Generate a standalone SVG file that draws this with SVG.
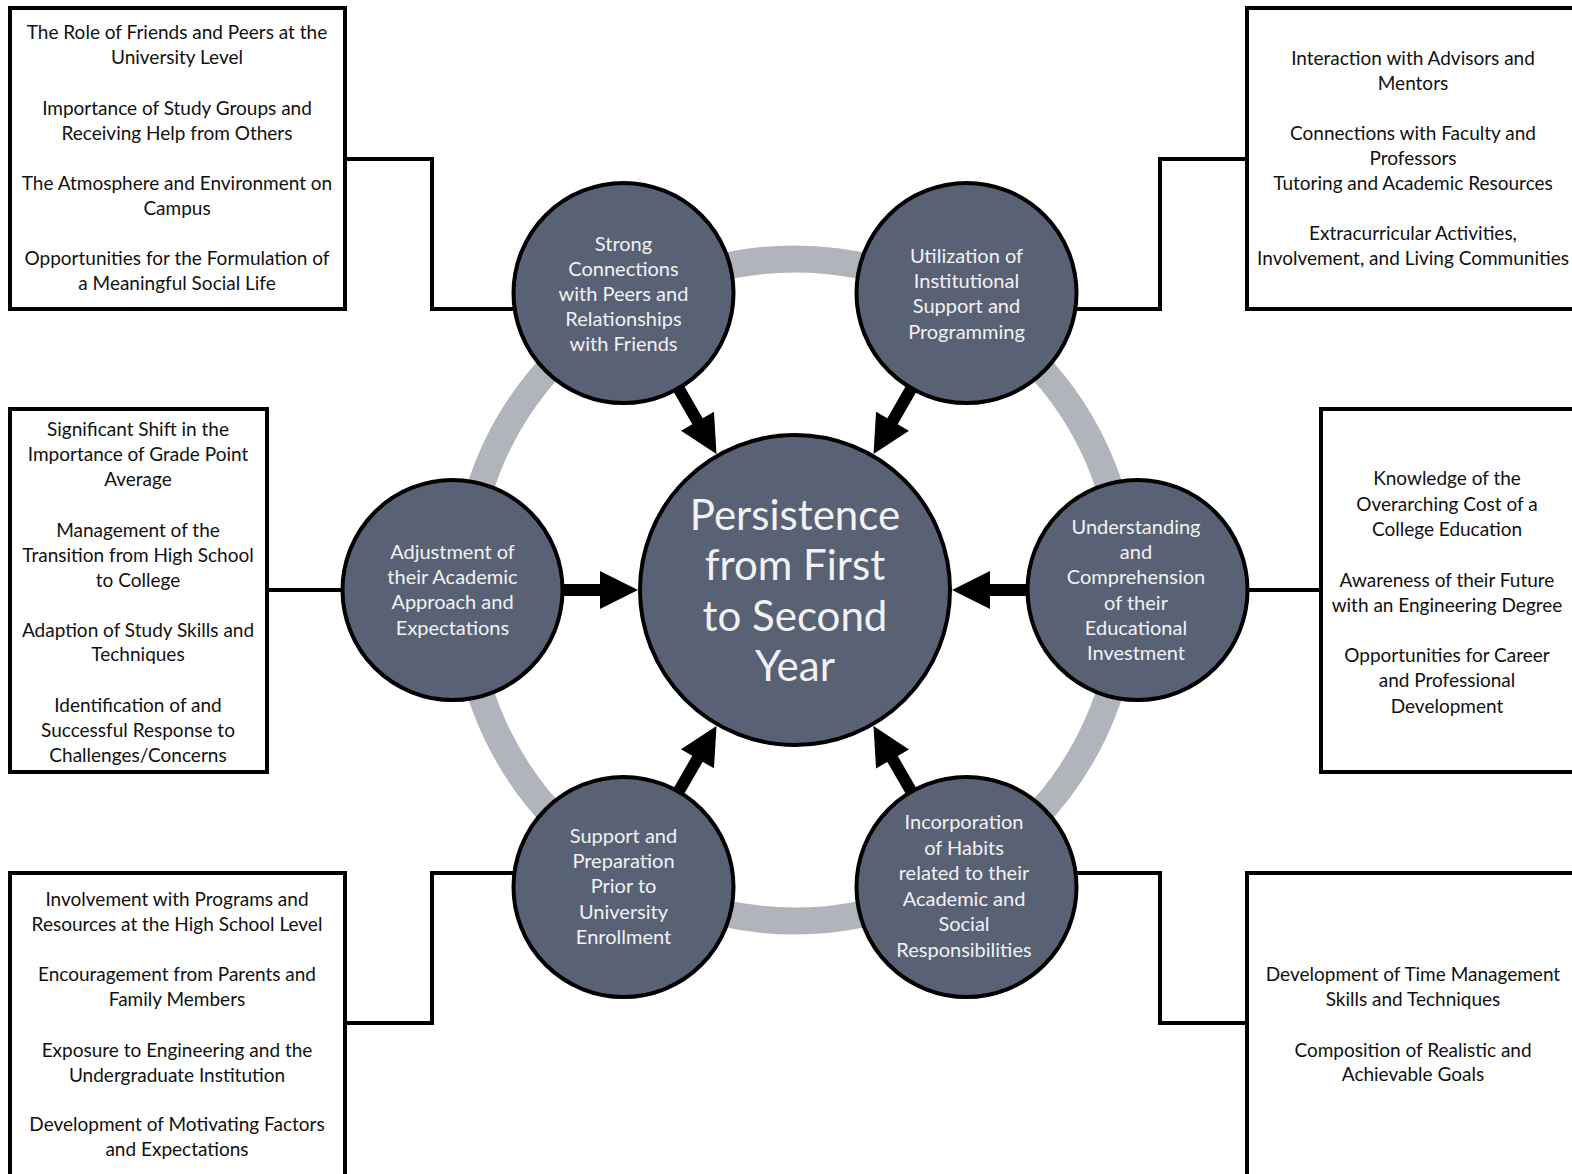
<svg xmlns="http://www.w3.org/2000/svg" width="1572" height="1174" viewBox="0 0 1572 1174">
<style>
.box{fill:#fff;stroke:#000;stroke-width:4}
.conn{fill:none;stroke:#000;stroke-width:4}
.sat{fill:#596175;stroke:#000;stroke-width:4}
.bt{font-family:Lato,"Liberation Sans",sans-serif;font-size:19px;fill:#111;text-anchor:middle}
.ct{font-family:Lato,"Liberation Sans",sans-serif;font-size:20px;fill:#f2f2f2;text-anchor:middle}
.mt{font-family:Lato,"Liberation Sans",sans-serif;font-size:42px;fill:#f2f2f2;text-anchor:middle}
.arr{fill:#000}
</style>
<defs>
<polygon id="arrow" points="562,584 600,584 600,571 638,590 600,609 600,596 562,596"/>
</defs>
<rect width="1572" height="1174" fill="#fff"/>
<circle cx="795" cy="590" r="331" fill="none" stroke="#b1b4bb" stroke-width="27"/>
<g id="connectors">
<polyline class="conn" points="345,159 432,159 432,309 515,309"/>
<polyline class="conn" points="1247,159 1160,159 1160,309 1075,309"/>
<line class="conn" x1="267" y1="590" x2="345" y2="590"/>
<line class="conn" x1="1245" y1="590" x2="1321" y2="590"/>
<polyline class="conn" points="345,1023 432,1023 432,873 515,873"/>
<polyline class="conn" points="1247,1023 1160,1023 1160,873 1075,873"/>
<g class="arr">
<use href="#arrow"/>
<use href="#arrow" transform="rotate(60 795 590)"/>
<use href="#arrow" transform="rotate(120 795 590)"/>
<use href="#arrow" transform="rotate(180 795 590)"/>
<use href="#arrow" transform="rotate(240 795 590)"/>
<use href="#arrow" transform="rotate(300 795 590)"/>
</g>
</g>
<g id="center">
<circle class="sat" cx="795" cy="590" r="155"/>
<text class="mt" x="795" y="530">Persistence</text>
<text class="mt" x="795" y="580">from First</text>
<text class="mt" x="795" y="631">to Second</text>
<text class="mt" x="795" y="681">Year</text>
</g>
<g id="n-peers">
<circle class="sat" cx="623.5" cy="293" r="110"/>
<text class="ct" x="623.5" y="251">Strong</text>
<text class="ct" x="623.5" y="276">Connections</text>
<text class="ct" x="623.5" y="301">with Peers and</text>
<text class="ct" x="623.5" y="326">Relationships</text>
<text class="ct" x="623.5" y="351">with Friends</text>
</g>
<g id="n-support">
<circle class="sat" cx="966.5" cy="293" r="110"/>
<text class="ct" x="966.5" y="263">Utilization of</text>
<text class="ct" x="966.5" y="288">Institutional</text>
<text class="ct" x="966.5" y="313">Support and</text>
<text class="ct" x="966.5" y="339">Programming</text>
</g>
<g id="n-academic">
<circle class="sat" cx="452.5" cy="590" r="110"/>
<text class="ct" x="452.5" y="559">Adjustment of</text>
<text class="ct" x="452.5" y="584">their Academic</text>
<text class="ct" x="452.5" y="609">Approach and</text>
<text class="ct" x="452.5" y="635">Expectations</text>
</g>
<g id="n-investment">
<circle class="sat" cx="1137.5" cy="590" r="110"/>
<text class="ct" x="1136" y="534">Understanding</text>
<text class="ct" x="1136" y="559">and</text>
<text class="ct" x="1136" y="584">Comprehension</text>
<text class="ct" x="1136" y="610">of their</text>
<text class="ct" x="1136" y="635">Educational</text>
<text class="ct" x="1136" y="660">Investment</text>
</g>
<g id="n-preparation">
<circle class="sat" cx="623.5" cy="887" r="110"/>
<text class="ct" x="623.5" y="843">Support and</text>
<text class="ct" x="623.5" y="868">Preparation</text>
<text class="ct" x="623.5" y="893">Prior to</text>
<text class="ct" x="623.5" y="919">University</text>
<text class="ct" x="623.5" y="944">Enrollment</text>
</g>
<g id="n-habits">
<circle class="sat" cx="966.5" cy="887" r="110"/>
<text class="ct" x="964" y="829">Incorporation</text>
<text class="ct" x="964" y="855">of Habits</text>
<text class="ct" x="964" y="880">related to their</text>
<text class="ct" x="964" y="906">Academic and</text>
<text class="ct" x="964" y="931">Social</text>
<text class="ct" x="964" y="957">Responsibilities</text>
</g>
<g id="b-peers">
<rect class="box" x="10" y="8" width="335" height="301"/>
<text class="bt" x="177" y="39">The Role of Friends and Peers at the</text>
<text class="bt" x="177" y="64">University Level</text>
<text class="bt" x="177" y="115">Importance of Study Groups and</text>
<text class="bt" x="177" y="140">Receiving Help from Others</text>
<text class="bt" x="177" y="190">The Atmosphere and Environment on</text>
<text class="bt" x="177" y="215">Campus</text>
<text class="bt" x="177" y="265">Opportunities for the Formulation of</text>
<text class="bt" x="177" y="290">a Meaningful Social Life</text>
</g>
<g id="b-support">
<rect class="box" x="1247" y="8" width="400" height="301"/>
<text class="bt" x="1413" y="65">Interaction with Advisors and</text>
<text class="bt" x="1413" y="90">Mentors</text>
<text class="bt" x="1413" y="140">Connections with Faculty and</text>
<text class="bt" x="1413" y="165">Professors</text>
<text class="bt" x="1413" y="190">Tutoring and Academic Resources</text>
<text class="bt" x="1413" y="240">Extracurricular Activities,</text>
<text class="bt" x="1413" y="265">Involvement, and Living Communities</text>
</g>
<g id="b-academic">
<rect class="box" x="10" y="409" width="257" height="363"/>
<text class="bt" x="138" y="436">Significant Shift in the</text>
<text class="bt" x="138" y="461">Importance of Grade Point</text>
<text class="bt" x="138" y="486">Average</text>
<text class="bt" x="138" y="537">Management of the</text>
<text class="bt" x="138" y="562">Transition from High School</text>
<text class="bt" x="138" y="587">to College</text>
<text class="bt" x="138" y="637">Adaption of Study Skills and</text>
<text class="bt" x="138" y="661">Techniques</text>
<text class="bt" x="138" y="712">Identification of and</text>
<text class="bt" x="138" y="737">Successful Response to</text>
<text class="bt" x="138" y="762">Challenges/Concerns</text>
</g>
<g id="b-investment">
<rect class="box" x="1321" y="409" width="300" height="363"/>
<text class="bt" x="1447" y="485">Knowledge of the</text>
<text class="bt" x="1447" y="511">Overarching Cost of a</text>
<text class="bt" x="1447" y="536">College Education</text>
<text class="bt" x="1447" y="587">Awareness of their Future</text>
<text class="bt" x="1447" y="612">with an Engineering Degree</text>
<text class="bt" x="1447" y="662">Opportunities for Career</text>
<text class="bt" x="1447" y="687">and Professional</text>
<text class="bt" x="1447" y="713">Development</text>
</g>
<g id="b-preparation">
<rect class="box" x="10" y="873" width="335" height="400"/>
<text class="bt" x="177" y="906">Involvement with Programs and</text>
<text class="bt" x="177" y="931">Resources at the High School Level</text>
<text class="bt" x="177" y="981">Encouragement from Parents and</text>
<text class="bt" x="177" y="1006">Family Members</text>
<text class="bt" x="177" y="1057">Exposure to Engineering and the</text>
<text class="bt" x="177" y="1082">Undergraduate Institution</text>
<text class="bt" x="177" y="1131">Development of Motivating Factors</text>
<text class="bt" x="177" y="1156">and Expectations</text>
</g>
<g id="b-habits">
<rect class="box" x="1247" y="873" width="400" height="400"/>
<text class="bt" x="1413" y="981">Development of Time Management</text>
<text class="bt" x="1413" y="1006">Skills and Techniques</text>
<text class="bt" x="1413" y="1057">Composition of Realistic and</text>
<text class="bt" x="1413" y="1081">Achievable Goals</text>
</g>
</svg>
